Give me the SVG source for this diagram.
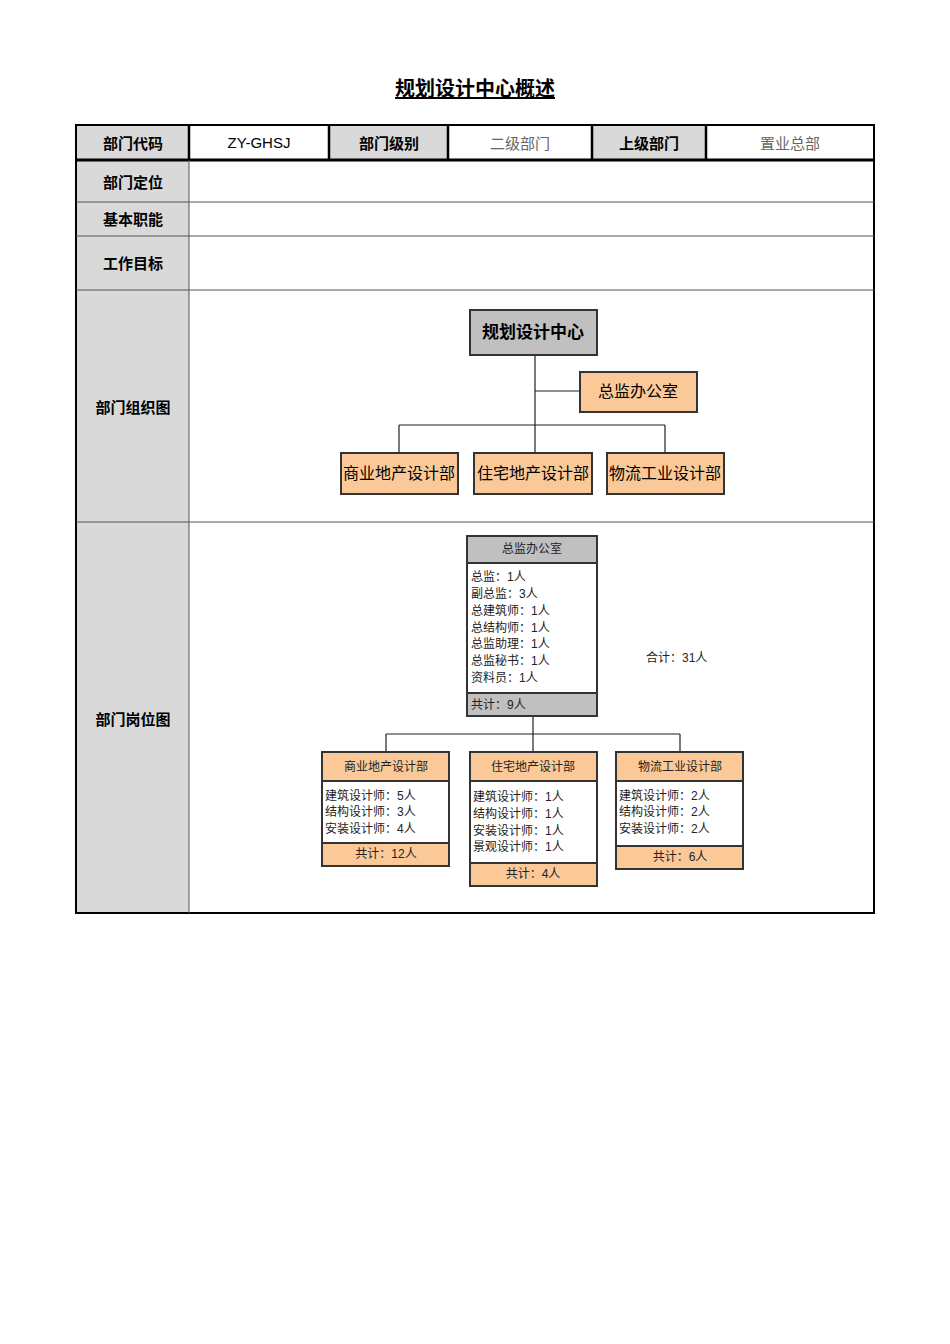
<svg xmlns="http://www.w3.org/2000/svg" width="950" height="1344" viewBox="0 0 950 1344">
<style>
text{font-family:"Liberation Sans","Noto Sans CJK SC",sans-serif;fill:#000}
.lb{font-size:15px;font-weight:bold;text-anchor:middle}
.vl{font-size:15px;fill:#666;text-anchor:middle}
.g{fill:#d9d9d9}
.ln{stroke:#555;stroke-width:1;fill:none}
.bx{stroke:#333;stroke-width:2}
.gr{fill:#c0c0c0}
.pk{fill:#fbc997}
.wh{fill:#fff}
.s{font-size:12px;fill:#222}
.c{font-size:12px;fill:#222;text-anchor:middle}
.cn{stroke:#222;stroke-width:1.2;fill:none}
</style>
<rect width="950" height="1344" fill="#fff"/>
<text x="475" y="96" style="font-size:20px;font-weight:bold" text-anchor="middle" text-decoration="underline">规划设计中心概述</text>
<g id="table">
<rect class="g" x="76" y="125" width="113" height="35"/>
<rect class="g" x="329" y="125" width="119" height="35"/>
<rect class="g" x="592" y="125" width="114" height="35"/>
<rect class="g" x="76" y="160" width="113" height="753"/>
<rect x="76" y="125" width="798" height="788" fill="none" stroke="#000" stroke-width="2"/>
<path d="M76 160H874" stroke="#000" stroke-width="3"/>
<path d="M189 125V160M329 125V160M448 125V160M592 125V160M706 125V160" stroke="#000" stroke-width="2.5"/>
<path d="M189 160V913M76 202H874M76 236H874M76 290H874M76 522H874" class="ln"/>
<text class="lb" x="133" y="149">部门代码</text>
<text x="259" y="148" style="font-size:15px" text-anchor="middle">ZY-GHSJ</text>
<text class="lb" x="389" y="149">部门级别</text>
<text class="vl" x="520" y="149">二级部门</text>
<text class="lb" x="649" y="149">上级部门</text>
<text class="vl" x="790" y="149">置业总部</text>
<text class="lb" x="133" y="188">部门定位</text>
<text class="lb" x="133" y="225">基本职能</text>
<text class="lb" x="133" y="269">工作目标</text>
<text class="lb" x="133" y="413">部门组织图</text>
<text class="lb" x="133" y="725">部门岗位图</text>
</g>
<g id="connectors">
<path class="cn" d="M535 355V453M535 391H580M399 425H665M399 425V453M665 425V453"/>
<path class="cn" d="M533 716V752M386 734H680M386 734V752M680 734V752"/>
</g>
<g id="org-top"><rect class="gr bx" x="470" y="310" width="127" height="45"/><text x="533" y="338" style="font-size:17px;font-weight:bold" text-anchor="middle">规划设计中心</text></g>
<g id="org-office"><rect class="pk bx" x="580" y="372" width="117" height="40"/><text x="638" y="397" style="font-size:16px" text-anchor="middle">总监办公室</text></g>
<g id="org-c1"><rect class="pk bx" x="341" y="453" width="117" height="41"/><text x="399" y="479" style="font-size:16px" text-anchor="middle">商业地产设计部</text></g>
<g id="org-c2"><rect class="pk bx" x="474" y="453" width="118" height="41"/><text x="533" y="479" style="font-size:16px" text-anchor="middle">住宅地产设计部</text></g>
<g id="org-c3"><rect class="pk bx" x="607" y="453" width="117" height="41"/><text x="665" y="479" style="font-size:16px" text-anchor="middle">物流工业设计部</text></g>
<g id="post-office">
<rect class="gr bx" x="467" y="536" width="130" height="27"/><rect class="wh bx" x="467" y="563" width="130" height="130"/><rect class="gr bx" x="467" y="693" width="130" height="23"/>
<text class="c" x="532" y="553">总监办公室</text>
<text class="s" x="471" y="581">总监：1人</text><text class="s" x="471" y="598">副总监：3人</text><text class="s" x="471" y="615">总建筑师：1人</text><text class="s" x="471" y="632">总结构师：1人</text><text class="s" x="471" y="648">总监助理：1人</text><text class="s" x="471" y="665">总监秘书：1人</text><text class="s" x="471" y="682">资料员：1人</text>
<text class="s" x="471" y="709">共计：9人</text>
</g>
<text class="s" x="646" y="662">合计：31人</text>
<g id="post-c1">
<rect class="pk bx" x="322" y="752" width="127" height="29"/><rect class="wh bx" x="322" y="781" width="127" height="62"/><rect class="pk bx" x="322" y="843" width="127" height="23"/>
<text class="c" x="386" y="771">商业地产设计部</text>
<text class="s" x="325" y="800">建筑设计师：5人</text><text class="s" x="325" y="816">结构设计师：3人</text><text class="s" x="325" y="833">安装设计师：4人</text>
<text class="c" x="386" y="858">共计：12人</text>
</g>
<g id="post-c2">
<rect class="pk bx" x="470" y="752" width="127" height="29"/><rect class="wh bx" x="470" y="781" width="127" height="82"/><rect class="pk bx" x="470" y="863" width="127" height="23"/>
<text class="c" x="533" y="771">住宅地产设计部</text>
<text class="s" x="473" y="801">建筑设计师：1人</text><text class="s" x="473" y="818">结构设计师：1人</text><text class="s" x="473" y="835">安装设计师：1人</text><text class="s" x="473" y="851">景观设计师：1人</text>
<text class="c" x="533" y="878">共计：4人</text>
</g>
<g id="post-c3">
<rect class="pk bx" x="616" y="752" width="127" height="29"/><rect class="wh bx" x="616" y="781" width="127" height="65"/><rect class="pk bx" x="616" y="846" width="127" height="23"/>
<text class="c" x="680" y="771">物流工业设计部</text>
<text class="s" x="619" y="800">建筑设计师：2人</text><text class="s" x="619" y="816">结构设计师：2人</text><text class="s" x="619" y="833">安装设计师：2人</text>
<text class="c" x="680" y="861">共计：6人</text>
</g>
</svg>
